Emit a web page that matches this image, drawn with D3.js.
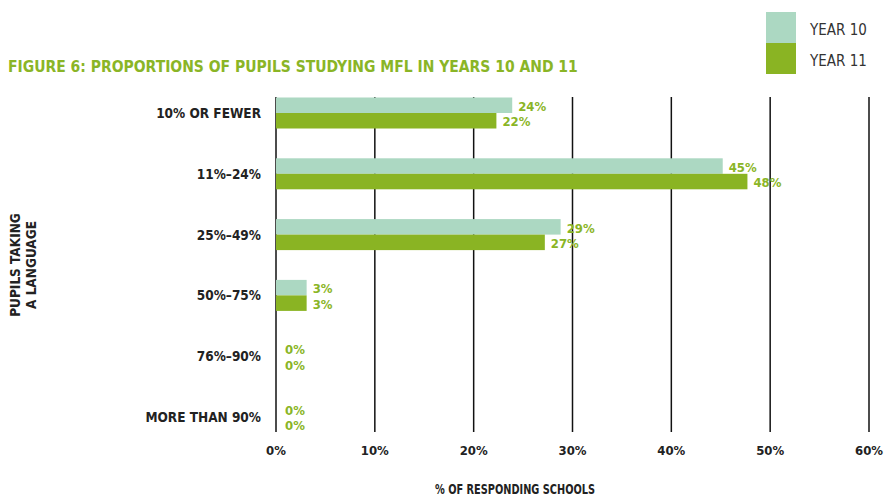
<!DOCTYPE html>
<html><head><meta charset="utf-8">
<script src="https://cdn.jsdelivr.net/npm/d3@7"></script>
<style>
body{margin:0;background:#fff;}
text{font-family:"DejaVu Sans Condensed","DejaVu Sans",sans-serif;font-stretch:condensed;}
</style></head>
<body><svg id="c" width="886" height="496"></svg>
<script>
const categories = ["10% OR FEWER","11%–24%","25%–49%","50%–75%","76%–90%","MORE THAN 90%"];
const seriesNames = ["YEAR 10","YEAR 11"];
const year10 = [23.9,45.2,28.8,3.1,0,0];
const year11 = [22.3,47.7,27.2,3.1,0,0];
const xTicks = [0,10,20,30,40,50,60];
const colors = ["#acd8c2","#8ab423"];
const labelColor = "#8ab526";

const svg = d3.select("#c");
const x = d3.scaleLinear().domain([0,60]).range([276,869]);
const y = d3.scaleBand().domain(categories).range([82.6,447.4]).paddingInner(0.49).paddingOuter(0.245);
const ySub = d3.scaleBand().domain(seriesNames).range([0,y.bandwidth()]);

// title
svg.append("text").attr("x",8).attr("y",72).attr("fill","#8ab526")
  .attr("font-size",15.5).attr("font-weight","bold").text("FIGURE 6: PROPORTIONS OF PUPILS STUDYING MFL IN YEARS 10 AND 11");

// legend
seriesNames.forEach((s,i)=>{
  svg.append("rect").attr("x",766).attr("y",12+i*31).attr("width",30).attr("height",31).attr("fill",colors[i]);
  svg.append("text").attr("x",810).attr("y",35+i*31).attr("font-size",15).attr("fill","#333").text(s);
});

// gridlines
svg.append("g").selectAll("line").data(xTicks).join("line")
  .attr("x1",d=>x(d)).attr("x2",d=>x(d)).attr("y1",97).attr("y2",432)
  .attr("stroke","#111").attr("stroke-width",1.5);

// x tick labels
svg.append("g").selectAll("text").data(xTicks).join("text")
  .attr("x",d=>x(d)).attr("y",455).attr("text-anchor","middle")
  .attr("font-size",13).attr("font-weight","bold").attr("fill","#222").text(d=>d+"%");

svg.append("text").attr("x",435).attr("y",494)
  .attr("font-size",13.5).attr("font-weight","bold").attr("fill","#222")
  .attr("textLength",160).attr("lengthAdjust","spacingAndGlyphs").text("% OF RESPONDING SCHOOLS");

// category labels
svg.append("g").selectAll("text").data(categories).join("text")
  .attr("x",261).attr("y",d=>y(d)+y.bandwidth()/2+5).attr("text-anchor","end")
  .attr("font-size",13.5).attr("font-weight","bold").attr("fill","#222").text(d=>d);

// y axis title
const yt = svg.append("text").attr("transform","translate(0,265) rotate(-90)")
  .attr("text-anchor","middle").attr("font-size",13.5).attr("font-weight","bold").attr("fill","#222");
yt.append("tspan").attr("x",0).attr("y",20).text("PUPILS TAKING");
yt.append("tspan").attr("x",0).attr("y",36).text("A LANGUAGE");

// bars
const data = categories.map((c,i)=>({cat:c, vals:[year10[i],year11[i]]}));
const groups = svg.append("g").selectAll("g").data(data).join("g")
  .attr("transform",d=>`translate(0,${y(d.cat)})`);
groups.selectAll("rect").data(d=>d.vals.map((v,j)=>({v,s:seriesNames[j],j}))).join("rect")
  .attr("x",x(0)).attr("y",d=>ySub(d.s)).attr("width",d=>x(d.v)-x(0)).attr("height",ySub.bandwidth())
  .attr("fill",d=>colors[d.j]);
groups.selectAll("text").data(d=>d.vals.map((v,j)=>({v,s:seriesNames[j],j}))).join("text")
  .attr("x",d=>x(d.v)+(d.v===0?9:6)).attr("y",d=>ySub(d.s)+ySub.bandwidth()-2)
  .attr("font-size",13).attr("font-weight","bold").attr("fill",labelColor).text(d=>Math.round(d.v)+"%");
</script></body></html>
